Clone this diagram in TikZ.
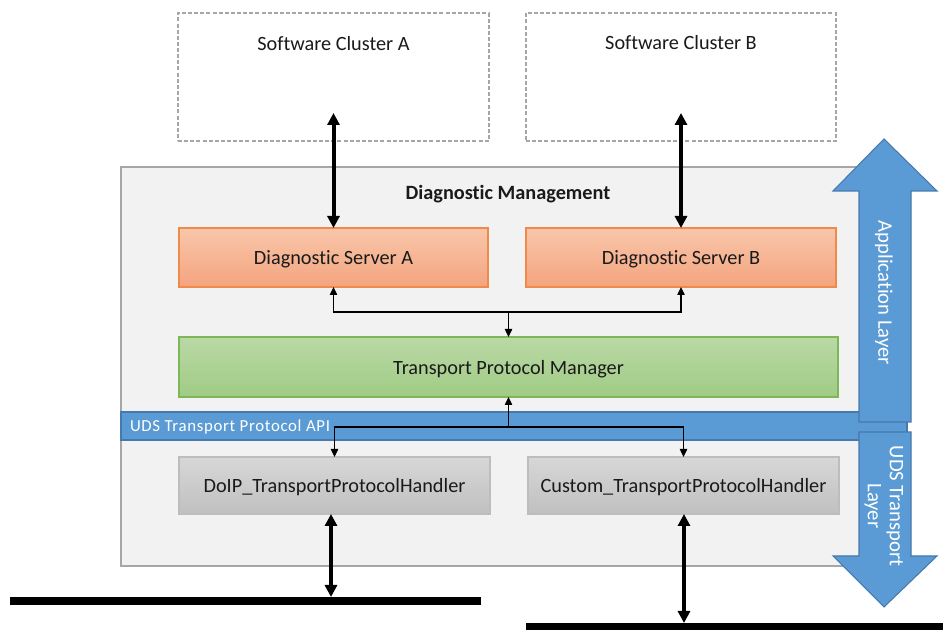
\documentclass[tikz,border=0pt]{standalone}
\usepackage{fontspec}
\setmainfont{Carlito}[Ligatures=NoCommon]
\usetikzlibrary{arrows.meta}
\definecolor{frameGray}{HTML}{A6A6A6}
\definecolor{panelGray}{HTML}{F2F2F2}
\definecolor{orangeTop}{HTML}{F8C6AA}
\definecolor{orangeBot}{HTML}{F4A47E}
\definecolor{orangeLine}{HTML}{F08A4B}
\definecolor{greenTop}{HTML}{BAD9A6}
\definecolor{greenBot}{HTML}{A0CB84}
\definecolor{greenLine}{HTML}{7EB65A}
\definecolor{grayTop}{HTML}{D7D7D7}
\definecolor{grayBot}{HTML}{C0C0C0}
\definecolor{grayLine}{HTML}{BDBDBD}
\definecolor{layerBlue}{HTML}{5B9BD5}
\definecolor{layerLine}{HTML}{4679AD}
\definecolor{inkBlack}{HTML}{1A1A1A}
\begin{document}
\begin{tikzpicture}[x=0.75pt,y=-0.75pt,
  every node/.style={inner sep=0pt,outer sep=0pt,text=inkBlack,font=\fontsize{15.2}{18}\selectfont},
  boxtext/.style={text height=10.6pt,text depth=0pt},
  cluster/.style={draw=frameGray,line width=0.9pt,dash pattern=on 3pt off 1.6pt,fill=white},
  serverbox/.style={boxtext,draw=orangeLine,line width=0.8pt,top color=orangeTop,bottom color=orangeBot,minimum height=44.25pt},
  managerbox/.style={boxtext,draw=greenLine,line width=0.8pt,top color=greenTop,bottom color=greenBot,minimum height=45pt},
  handlerbox/.style={boxtext,draw=grayLine,line width=0.8pt,top color=grayTop,bottom color=grayBot,minimum height=42.75pt},
  bigarrow/.style={line width=3pt,{Triangle[length=9pt,width=9pt]}-{Triangle[length=9pt,width=9pt]}},
  smallarrow/.style={line width=1pt,-{Triangle[length=6pt,width=5.5pt]}},
  busline/.style={line width=6pt},
  layer/.style={fill=layerBlue,draw=layerLine,line width=0.8pt},
  layertext/.style={text=white,rotate=-90,align=center,font=\fontsize{15.5}{16.5}\selectfont}]
\useasboundingbox (0,0) rectangle (943,630);

% software clusters
\node[cluster,minimum width=233.25pt,minimum height=96pt] (clA) at (333.5,77) {};
\node[cluster,minimum width=232.5pt,minimum height=96pt] (clB) at (681,77) {};
\node[boxtext] (clAt) at (333.5,43) {Software Cluster A};
\node[boxtext] (clBt) at (681,42) {Software Cluster B};

% diagnostic management frame
\node[draw=frameGray,fill=panelGray,line width=1pt,minimum width=573pt,minimum height=299.25pt] (dm) at (503,366.5) {};
\node[boxtext,font=\fontsize{15.2}{18}\selectfont\bfseries] (dmt) at (508,192) {Diagnostic Management};

% diagnostic servers
\node[serverbox,minimum width=231.75pt] (srvA) at (333.5,257.5) {Diagnostic Server A};
\node[serverbox,minimum width=232.5pt] (srvB) at (681,257.5) {Diagnostic Server B};

% transport protocol manager
\node[managerbox,minimum width=494.25pt] (tpm) at (508.5,367) {Transport Protocol Manager};

% UDS transport protocol API bar
\node[fill=layerBlue,draw=layerLine,line width=0.8pt,minimum width=589.5pt,minimum height=21pt] (api) at (514,426) {};
\node[anchor=west,text height=8.6pt,text depth=0pt,text=white,font=\fontsize{12.6}{14}\selectfont\addfontfeature{LetterSpace=4}] (apit) at (130,426) {UDS Transport Protocol API};

% transport protocol handlers
\node[handlerbox,minimum width=233.25pt] (doip) at (334.5,485.5) {DoIP\_TransportProtocolHandler};
\node[handlerbox,minimum width=233.25pt] (cust) at (683.5,485.5) {Custom\_TransportProtocolHandler};

% layer arrows
\draw[layer] (859,422) -- (859,191) -- (833,191) -- (884,139) -- (937,191) -- (911,191) -- (911,422) -- cycle;
\draw[layer] (859,432) -- (911,432) -- (911,556) -- (937,556) -- (884,607) -- (833,556) -- (859,556) -- cycle;
\node[layertext] (appl) at (884,293) {Application Layer};
\node[layertext] (udsl) at (884,506) {UDS Transport\\Layer};

% buses
\coordinate (b1l) at (10,601);
\coordinate (b1r) at (481,601);
\coordinate (b2l) at (526,627);
\coordinate (b2r) at (943,627);
\draw[busline] (b1l) -- (b1r);
\draw[busline] (b2l) -- (b2r);

% thick connectors
\coordinate (aTop) at (333.5,113);
\coordinate (bTop) at (681,113);
\coordinate (aBus) at (331,597);
\coordinate (bBus) at (684,623);
\draw[bigarrow] (aTop) -- (srvA.north);
\draw[bigarrow] (bTop) -- (srvB.north);
\draw[bigarrow] (doip.south -| aBus) -- (aBus);
\draw[bigarrow] (cust.south -| bBus) -- (bBus);

% internal connectors
\coordinate (j1) at (508.5,312);
\coordinate (j2) at (508.5,427);
\draw[smallarrow] (j1) -| (srvA);
\draw[smallarrow] (j1) -| (srvB);
\draw[smallarrow] (j1) -- (tpm);
\draw[smallarrow] (j2) -- (tpm);
\draw[smallarrow] (j2) -| (doip);
\draw[smallarrow] (j2) -| (cust);
\end{tikzpicture}
\end{document}
